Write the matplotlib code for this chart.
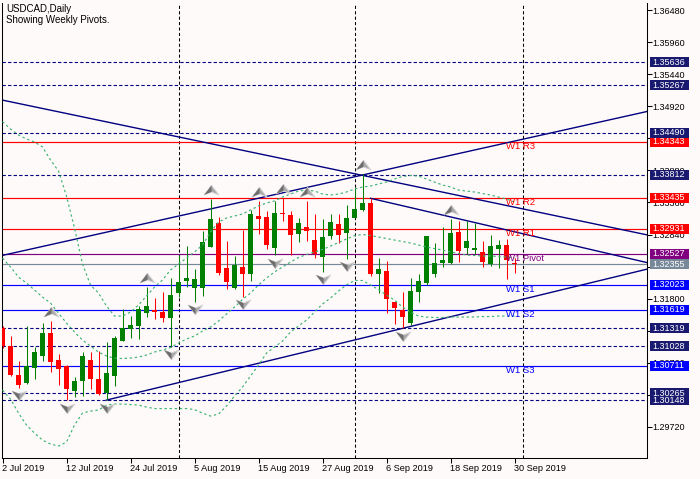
import matplotlib
matplotlib.use("Agg")
import matplotlib.pyplot as plt
import matplotlib.transforms as mtransforms
from matplotlib.patches import Rectangle
from matplotlib.path import Path
import numpy as np
import pandas as pd

# ---------------- data ----------------
dates = pd.bdate_range("2019-07-02", "2019-09-30")

opens = [1.31316, 1.31029, 1.30558, 1.30433, 1.30677, 1.30871, 1.31240, 1.30802, 1.30709, 1.30303,
         1.30465, 1.30802, 1.30493, 1.30271, 1.30537, 1.31115, 1.31310, 1.31359, 1.31570, 1.31614,
         1.31576, 1.31479, 1.31885, 1.32089, 1.31976, 1.31976, 1.32642, 1.33031, 1.32296, 1.31966,
         1.32312, 1.32198, 1.33140, 1.33119, 1.32625, 1.33194, 1.33156, 1.32853, 1.32957, 1.32750,
         1.32479, 1.32815, 1.33010, 1.32869, 1.33113, 1.33238, 1.33356, 1.32203, 1.32247, 1.31748,
         1.31614, 1.31407, 1.31901, 1.32047, 1.32193, 1.32382, 1.32382, 1.32885, 1.32616, 1.32588,
         1.32551, 1.32356, 1.32599, 1.32669, 1.32382]
highs = [1.31354, 1.31191, 1.30790, 1.31354, 1.31018, 1.31407, 1.31440, 1.30899, 1.30720, 1.30530,
         1.30936, 1.30927, 1.30953, 1.31089, 1.31191, 1.31625, 1.31516, 1.31683, 1.31987, 1.31804,
         1.31901, 1.32128, 1.32507, 1.32653, 1.32279, 1.32901, 1.33416, 1.33119, 1.32734, 1.32491,
         1.32913, 1.33238, 1.33389, 1.33221, 1.33384, 1.33428, 1.33226, 1.33103, 1.33384, 1.33173,
         1.33094, 1.33173, 1.33173, 1.33319, 1.33590, 1.33817, 1.33428, 1.32463, 1.32409, 1.31748,
         1.31901, 1.32128, 1.32193, 1.32815, 1.32697, 1.32966, 1.33091, 1.33059, 1.33060, 1.33031,
         1.32734, 1.32832, 1.32750, 1.32762, 1.32453]
lows = [1.30996, 1.30542, 1.30352, 1.30420, 1.30488, 1.30785, 1.30612, 1.30396, 1.30152, 1.30196,
        1.30222, 1.30326, 1.30233, 1.30152, 1.30379, 1.31110, 1.31159, 1.31138, 1.31505, 1.31463,
        1.31424, 1.31018, 1.31830, 1.31982, 1.31748, 1.31841, 1.32632, 1.32182, 1.31950, 1.31955,
        1.31830, 1.32085, 1.32843, 1.32599, 1.32507, 1.33064, 1.32510, 1.32723, 1.32739, 1.32453,
        1.32236, 1.32767, 1.32697, 1.32447, 1.33113, 1.33217, 1.32166, 1.31895, 1.31560, 1.31381,
        1.31316, 1.31370, 1.31748, 1.32020, 1.32154, 1.32307, 1.32356, 1.32398, 1.32523, 1.32523,
        1.32307, 1.32328, 1.32291, 1.32117, 1.32219]
closes = [1.31029, 1.30558, 1.30396, 1.30709, 1.30932, 1.31245, 1.30774, 1.30660, 1.30326, 1.30461,
          1.30867, 1.30498, 1.30245, 1.30590, 1.31159, 1.31316, 1.31370, 1.31625, 1.31683, 1.31586,
          1.31489, 1.31857, 1.32063, 1.32133, 1.32117, 1.32718, 1.33094, 1.32210, 1.32063, 1.32344,
          1.32193, 1.33173, 1.33096, 1.32669, 1.33194, 1.33168, 1.32832, 1.33026, 1.32901, 1.32523,
          1.32794, 1.33043, 1.32836, 1.33108, 1.33249, 1.33351, 1.32193, 1.32279, 1.31797, 1.31651,
          1.31505, 1.31922, 1.32085, 1.32815, 1.32382, 1.32426, 1.32869, 1.32577, 1.32739, 1.32616,
          1.32398, 1.32653, 1.32669, 1.32426, 1.32355]

bb_upper = [1.34672, 1.34553, 1.34456, 1.34391, 1.34342, 1.34261, 1.34050, 1.33871, 1.33465, 1.32945,
            1.32361, 1.32020, 1.31890, 1.31679, 1.31516, 1.31516, 1.31581, 1.31695, 1.31841, 1.31987,
            1.32101, 1.32263, 1.32361, 1.32458, 1.32556, 1.32669, 1.32880, 1.33043, 1.33108, 1.33140,
            1.33173, 1.33238, 1.33303, 1.33351, 1.33384, 1.33449, 1.33497, 1.33546, 1.33562, 1.33546,
            1.33497, 1.33481, 1.33497, 1.33530, 1.33579, 1.33611, 1.33627, 1.33660, 1.33692, 1.33741,
            1.33782, 1.33798, 1.33790, 1.33741, 1.33692, 1.33644, 1.33611, 1.33562, 1.33546, 1.33530,
            1.33506, 1.33481, 1.33449, 1.33416, 1.33368]
bb_middle = [1.32458, 1.32312, 1.32150, 1.32052, 1.31938, 1.31825, 1.31727, 1.31565, 1.31402, 1.31256,
             1.31126, 1.31029, 1.30932, 1.30867, 1.30834, 1.30826, 1.30834, 1.30850, 1.30883, 1.30932,
             1.30964, 1.31005, 1.31078, 1.31143, 1.31191, 1.31273, 1.31338, 1.31435, 1.31549, 1.31662,
             1.31784, 1.31890, 1.32020, 1.32133, 1.32231, 1.32312, 1.32393, 1.32466, 1.32515, 1.32556,
             1.32596, 1.32653, 1.32710, 1.32767, 1.32823, 1.32840, 1.32823, 1.32799, 1.32775, 1.32750,
             1.32726, 1.32702, 1.32669, 1.32637, 1.32612, 1.32588, 1.32556, 1.32531, 1.32507, 1.32499,
             1.32491, 1.32491, 1.32482, 1.32474, 1.32458]
bb_lower = [1.30314, 1.30168, 1.29941, 1.29746, 1.29616, 1.29502, 1.29437, 1.29405, 1.29470, 1.29746,
            1.29941, 1.29973, 1.29990, 1.30071, 1.30087, 1.30087, 1.30079, 1.30071, 1.30038, 1.30014,
            1.30014, 1.30014, 1.30014, 1.30014, 1.29998, 1.29941, 1.29892, 1.29925, 1.30055, 1.30217,
            1.30363, 1.30542, 1.30720, 1.30915, 1.31013, 1.31110, 1.31256, 1.31354, 1.31451, 1.31581,
            1.31711, 1.31808, 1.31922, 1.32020, 1.32093, 1.32093, 1.32020, 1.31946, 1.31857, 1.31776,
            1.31662, 1.31581, 1.31516, 1.31500, 1.31492, 1.31492, 1.31500, 1.31500, 1.31500, 1.31500,
            1.31508, 1.31508, 1.31516, 1.31516, 1.31516]

fractal_up_bars = [6, 18, 26, 32, 35, 38, 45, 56]
fractal_down_bars = [2, 8, 13, 21, 24, 30, 34, 40, 43, 50]

pivot_names = ["W1 R3", "W1 R2", "W1 R1", "W1 Pivot", "W1 S1", "W1 S2", "W1 S3"]
pivot_values = [1.34343, 1.33435, 1.32931, 1.32527, 1.32023, 1.31619, 1.30711]
level_values = [1.35636, 1.35267, 1.34490, 1.33812, 1.31319, 1.31028, 1.30265, 1.30148]
bid_price = 1.32355

# trend lines: two anchor points (bar index, price)
trend_a = [(0, 1.35022), (45, 1.33800)]
trend_c = [(0, 1.32501), (45, 1.33806)]
trend_b = [(46, 1.33428), (56, 1.33126)]
trend_d = [(13, 1.30152), (50, 1.31316)]

y_ticks = [1.36480, 1.35960, 1.35440, 1.34920, 1.34400, 1.33880, 1.33360,
           1.32840, 1.32320, 1.31800, 1.31280, 1.30760, 1.30240, 1.29720]
# tick labels that are completely covered by price boxes in the reference
y_ticks_covered = [1.34400, 1.32320, 1.31280, 1.30240]

title_lines = ["USDCAD,Daily", "Showing Weekly Pivots."]

# ---------------- style ----------------
plt.rcParams["font.family"] = ["Liberation Sans", "DejaVu Sans"]
BG = "#FFFAFA"
NAVY = "#000080"
BULL = "#008000"
BEAR = "#FF0000"
BAND = "#3CB371"
pivot_colors = ["#FF0000", "#FF0000", "#FF0000", "#800080", "#0000FF", "#0000FF", "#0000FF"]

W, H = 700, 479
fig = plt.figure(figsize=(W / 100, H / 100), dpi=100, facecolor=BG)
ax = fig.add_axes([2 / W, 21.5 / H, 645 / W, 455 / H], facecolor=BG)

n = len(opens)
x = np.arange(n)
XMIN, XMAX = -0.0625, 80.5625
ax.set_xlim(XMIN, XMAX)
ax.set_ylim(1.292195, 1.366069)

# horizontal levels
for v in level_values:
    ax.axhline(v, color=NAVY, lw=0.8, ls=(0, (3, 2)), zorder=1)
for v, c in zip(pivot_values, pivot_colors):
    ax.axhline(v, color=c, lw=0.85, zorder=1.2)
ax.axhline(bid_price, color="#778899", lw=0.85, zorder=1.2)

# month separators
seps = [i for i in range(1, n) if dates[i].month != dates[i - 1].month] + [n]
for s in seps:
    ax.axvline(s, color="black", lw=0.75, ls=(0, (3, 2.2)), zorder=1)

# trend lines
def ray(pts, x_start):
    (x0, y0), (x1, y1) = pts
    slope = (y1 - y0) / (x1 - x0)
    xs = np.array([x_start, XMAX])
    ax.plot(xs, y0 + slope * (xs - x0), color=NAVY, lw=1.0, zorder=1.5)

ray(trend_a, XMIN - 1)
ray(trend_c, XMIN - 1)
ray(trend_b, trend_b[0][0])
ray(trend_d, trend_d[0][0])

# candles
o = np.array(opens); h = np.array(highs); l = np.array(lows); c = np.array(closes)
cols = np.where(c >= o, BULL, BEAR)
ax.vlines(x, l, h, colors=cols, lw=0.75, zorder=3)
ax.bar(x, np.maximum(np.abs(c - o), 0.00017), bottom=np.minimum(o, c), width=0.625,
       color=cols, linewidth=0, zorder=3.1)

# bollinger bands
for band in (bb_upper, bb_middle, bb_lower):
    ax.plot(x, band, color=BAND, lw=0.85, ls=(0, (2, 2.3)), zorder=4)

# fractals (two-tone arrowheads)
codes = [Path.MOVETO, Path.LINETO, Path.LINETO, Path.LINETO, Path.CLOSEPOLY]
up_path = Path([(0, 0.7), (1, -0.6), (0, -0.2), (-1, -0.6), (0, 0.7)], codes)
dn_path = Path([(0, -0.7), (1, 0.6), (0, 0.2), (-1, 0.6), (0, -0.7)], codes)
codes3 = [Path.MOVETO, Path.LINETO, Path.LINETO, Path.CLOSEPOLY]
up_left = Path([(0, 0.7), (0, -0.2), (-1, -0.6), (0, 0.7)], codes3)
dn_left = Path([(0, -0.7), (0, 0.2), (-1, 0.6), (0, -0.7)], codes3)
tr_up = mtransforms.offset_copy(ax.transData, fig=fig, x=0, y=0.09, units="inches")
tr_dn = mtransforms.offset_copy(ax.transData, fig=fig, x=0, y=-0.075, units="inches")
fu = np.array(fractal_up_bars); fd = np.array(fractal_down_bars)
MS = 10.5
for idx, vals, full, half, tr in ((fu, h, up_path, up_left, tr_up),
                                  (fd, l, dn_path, dn_left, tr_dn)):
    ax.plot(idx, vals[idx], ls="none", marker=full, ms=MS, mfc="#a8a8a8", mec="#d4d4d4",
            mew=0.7, transform=tr, zorder=5)
    ax.plot(idx, vals[idx], ls="none", marker=half, ms=MS, mfc="#6e6e6e", mec="none",
            transform=tr, zorder=5.1)

# pivot labels
blend = mtransforms.blended_transform_factory(ax.transAxes, ax.transData)
label_x = (505.5 - 2) / 645
for name, v, col in zip(pivot_names, pivot_values, pivot_colors):
    ax.text(label_x, v, name, color=col, transform=blend, fontsize=6.8,
            ha="left", va="top", zorder=6)

# axes / ticks
ax.yaxis.tick_right()
ax.set_yticks(y_ticks)
ax.set_yticklabels(["" if t in y_ticks_covered else f"{t:.5f}" for t in y_ticks])
ax.tick_params(axis="y", direction="out", length=3.4, width=0.75, pad=0.6,
               labelsize=6.5, colors="black")
xt = list(range(0, n, 8))
ax.set_xticks(xt)
ax.set_xticklabels([f"{dates[i].day} {dates[i].strftime('%b %Y')}" for i in xt], ha="left")
ax.tick_params(axis="x", direction="out", length=3.4, width=0.75, pad=1.0,
               labelsize=6.6, colors="black")
ax.spines["top"].set_visible(False)
for s in ("left", "bottom", "right"):
    ax.spines[s].set_linewidth(0.75)
    ax.spines[s].set_color("black")

# right-side price boxes
box_x0 = (650 - 2) / 645
box_w = 39.3 / 645
box_h = 0.00162
text_x = (652.5 - 2) / 645

def price_box(v, color):
    ax.add_patch(Rectangle((box_x0, v - box_h / 2), box_w, box_h, transform=blend,
                           facecolor=color, edgecolor="none", clip_on=False, zorder=10))
    ax.text(text_x, v, f"{v:.5f}", transform=blend, color="white", fontsize=6.5,
            ha="left", va="center", clip_on=False, zorder=11)

boxes = [(v, "#191970") for v in level_values]
boxes += list(zip(pivot_values, pivot_colors))
boxes += [(bid_price, "#778899")]
for v, col in sorted(boxes, key=lambda t: t[0]):
    price_box(v, col)

# title
fig.text(6 / W, 1 - 4 / H, title_lines[0], fontsize=7, ha="left", va="top", color="black")
fig.text(6 / W, 1 - 15 / H, title_lines[1], fontsize=7, ha="left", va="top", color="black")

fig.savefig("out.png", dpi=100, facecolor=BG)
